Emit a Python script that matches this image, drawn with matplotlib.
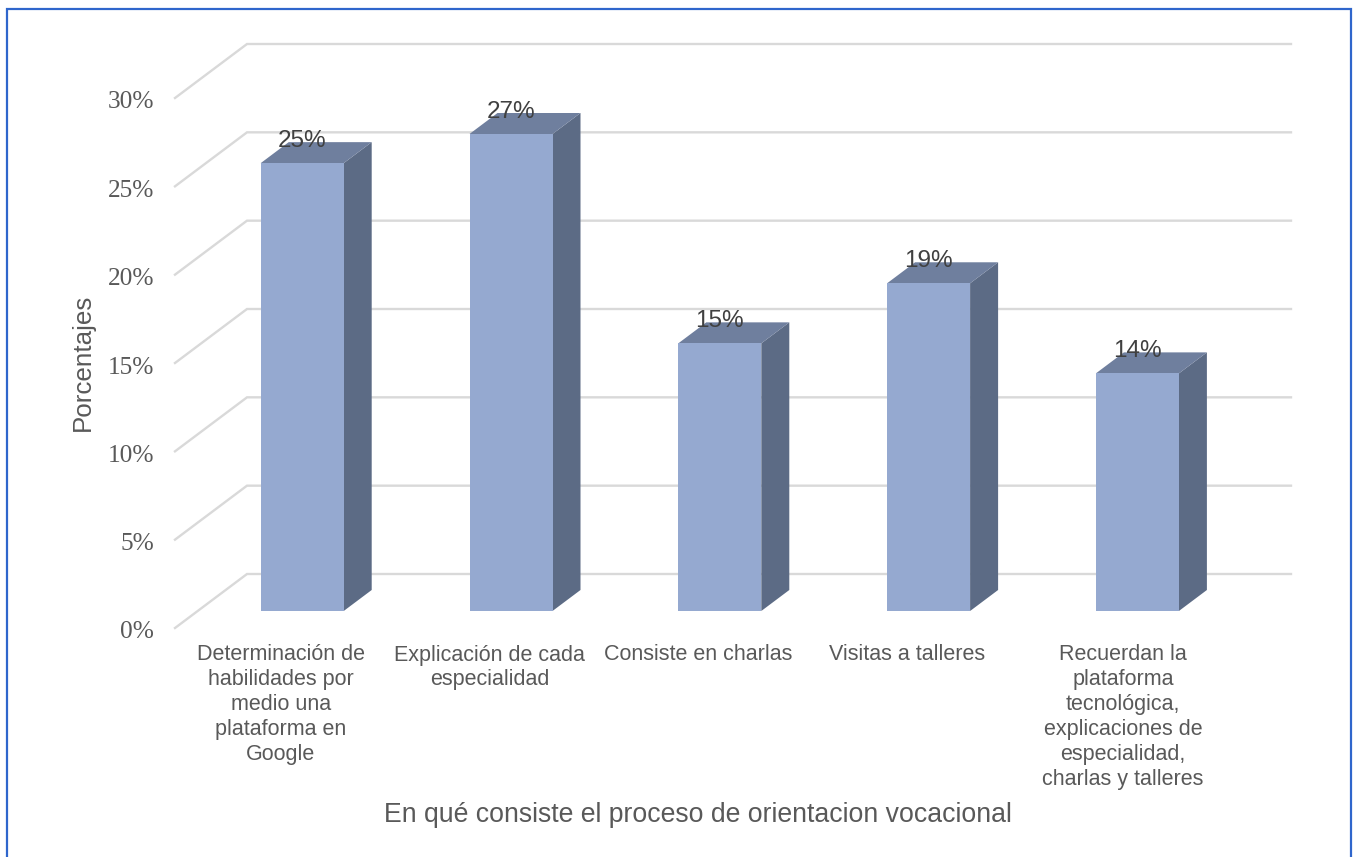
import matplotlib
matplotlib.use('Agg')
import matplotlib.pyplot as plt
from matplotlib.lines import Line2D
from matplotlib.patches import Polygon, Rectangle
from matplotlib.transforms import ScaledTranslation

categories = [
    'Determinación de\nhabilidades por\nmedio una\nplataforma en\nGoogle',
    'Explicación de cada\nespecialidad',
    'Consiste en charlas',
    'Visitas a talleres',
    'Recuerdan la\nplataforma\ntecnológica,\nexplicaciones de\nespecialidad,\ncharlas y talleres',
]
values = [25.35, 27.0, 15.15, 18.55, 13.45]
value_labels = ['25%', '27%', '15%', '19%', '14%']
y_ticks = [0, 5, 10, 15, 20, 25, 30]

W, H = 1353, 857
plt.rcParams['font.family'] = ['Liberation Sans', 'DejaVu Sans']

fig = plt.figure(figsize=(W / 100, H / 100), dpi=100)
# plano frontal del grafico en pixeles: x 175-1219, y 628-98
ax = fig.add_axes([175 / W, 1 - 628 / H, (1219 - 175) / W, (628 - 98) / H])
ax.set_xlim(-0.5, 4.5)
ax.set_ylim(0, 30)

# profundidad 3D en unidades de datos
px_x = 5 / (1219 - 175)
px_y = 30 / (628 - 98)
depth_x = 72 * px_x
depth_y = 54 * px_y

for t in y_ticks:
    ax.plot([-0.5, -0.5 + depth_x, 4.5 + depth_x], [t, t + depth_y, t + depth_y],
            color='#d9d9d9', lw=1.7, clip_on=False, zorder=1, solid_joinstyle='miter')

# barras pseudo 3D
bar_w = 83 * px_x
off_x, off_y = 22.8 * px_x, 17 * px_y
dx, dy = 28 * px_x, 21 * px_y
for i, v in enumerate(values):
    x0 = i + off_x - bar_w / 2
    x1 = x0 + bar_w
    y0 = off_y
    y1 = off_y + v
    ax.add_patch(Polygon([(x1, y0), (x1 + dx, y0 + dy), (x1 + dx, y1 + dy), (x1, y1)],
                         fc='#5c6b85', ec='none', clip_on=False, zorder=3))
    ax.add_patch(Polygon([(x0, y1), (x0 + dx, y1 + dy), (x1 + dx, y1 + dy), (x1, y1)],
                         fc='#6f7f9e', ec='none', clip_on=False, zorder=3))
    ax.add_patch(Rectangle((x0, y0), bar_w, v, fc='#95a9d0', ec='none', clip_on=False, zorder=4))
    ax.text(i + off_x, y1 + 22 * px_y, value_labels[i], ha='center', va='center',
            fontsize=17.5, color='#404040', zorder=5)

for side in ax.spines.values():
    side.set_visible(False)
ax.patch.set_alpha(0)
ax.set_xticks([])
ax.set_yticks(y_ticks)
ax.set_yticklabels([f'{t}%' for t in y_ticks], family=['Liberation Serif'], fontsize=18.3, color='#595959')
ax.tick_params(axis='y', length=0, pad=15)
for lab in ax.get_yticklabels():
    lab.set_transform(lab.get_transform() + ScaledTranslation(0, -2 / 100, fig.dpi_scale_trans))

# la ultima etiqueta va algo corrida a la derecha, como en el original
label_x = [1.5, 1.5, 1.5, 1.5, 8.5]
for i, lab in enumerate(categories):
    ax.text(i + label_x[i] * px_x, -16.5 * px_y, lab, ha='center', va='top', fontsize=15.5,
            color='#595959', linespacing=1.24, clip_on=False)

fig.text(83 / W, 1 - 362 / H, 'Porcentajes', rotation=90, ha='center', va='center',
         fontsize=18.7, color='#595959')
fig.text(698 / W, 1 - 815 / H, 'En qué consiste el proceso de orientacion vocacional',
         ha='center', va='center', fontsize=19.2, color='#595959')

# marco azul, sin linea inferior
fig.add_artist(Line2D([7 / W, 7 / W, 1351 / W, 1351 / W], [0, 1 - 9 / H, 1 - 9 / H, 0],
                      transform=fig.transFigure, color='#2f66cc', lw=1.6,
                      solid_joinstyle='miter'))

fig.savefig('out.png', dpi=100)
